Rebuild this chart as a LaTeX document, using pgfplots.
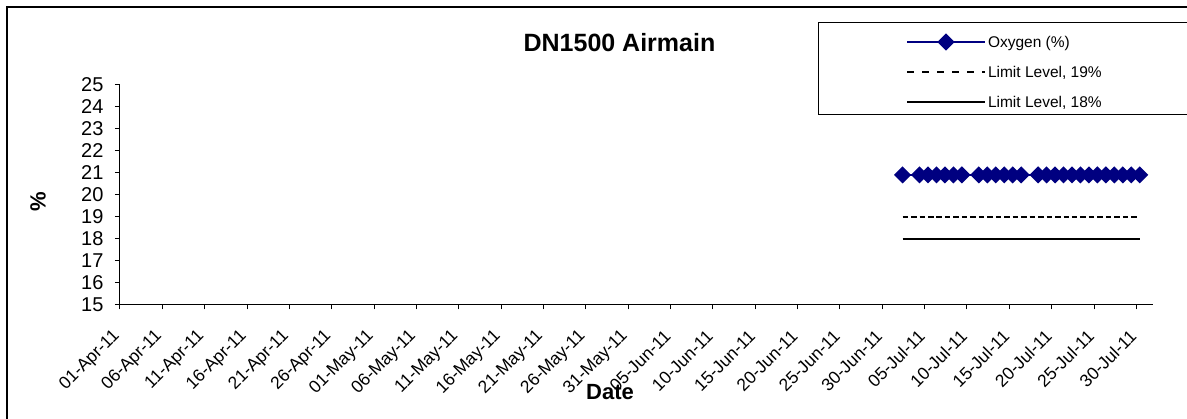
\documentclass[border=0pt]{standalone}
\usepackage{fontspec}
\setmainfont{Liberation Sans}
\usepackage{pgfplots}
\pgfplotsset{compat=1.18}
\definecolor{navy}{HTML}{000080}

\begin{document}
\begin{tikzpicture}[x=1pt,y=1pt]
\path[use as bounding box] (0,0) rectangle (1187,419);
\draw[line width=2pt] (7,-20) -- (7,412) -- (1210,412);
\draw[line width=1pt] (818,396) rectangle (1210,304);
\begin{axis}[
  at={(120pt,114.7pt)}, anchor=south west,
  scale only axis, width=1033.3pt, height=219.3pt,
  xmin=0, xmax=122, ymin=15, ymax=25,
  axis lines*=left,
  axis line style={black, line width=1pt},
  tick align=outside, major tick length=5pt,
  tick style={black, line width=1pt},
  clip=false,
  /pgf/number format/assume math mode=true,
  ytick={15,16,...,25},
  yticklabel style={font=\fontsize{20}{24}\selectfont, xshift=-8pt},
  xtick={0,5,...,120},
  xticklabels={01-Apr-11,06-Apr-11,11-Apr-11,16-Apr-11,21-Apr-11,26-Apr-11,01-May-11,06-May-11,11-May-11,16-May-11,21-May-11,26-May-11,31-May-11,05-Jun-11,10-Jun-11,15-Jun-11,20-Jun-11,25-Jun-11,30-Jun-11,05-Jul-11,10-Jul-11,15-Jul-11,20-Jul-11,25-Jul-11,30-Jul-11},
  xticklabel style={font=\fontsize{17.5}{21}\selectfont, inner sep=0pt, yshift=-24pt, xshift=-3pt, rotate=45, anchor=east},
  title={DN1500 Airmain},
  title style={font=\bfseries\fontsize{25}{30}\selectfont, at={(axis description cs:0.4834,1.1231)}, anchor=base},
  xlabel={Date},
  xlabel style={font=\bfseries\fontsize{22}{26}\selectfont, at={(axis description cs:0.4742,-0.4364)}, anchor=base},
  ylabel={\%},
  ylabel style={font=\bfseries\fontsize{22}{26}\selectfont, at={(axis description cs:-0.0794,0.4665)}, anchor=center},
  legend style={draw=none, fill=none, inner sep=0pt, outer sep=0pt,
    at={(axis description cs:0.7607,1.2303)}, anchor=north west,
    font=\fontsize{15.5}{18}\selectfont, row sep=15.5pt, column sep=2pt,
    nodes={inner sep=0pt, text height=11pt, text depth=3.5pt}},
  legend cell align=left,
  legend image code/.code={\draw[mark repeat=2,mark phase=2,#1] plot coordinates {(0pt,2pt) (39pt,2pt) (78pt,2pt)};},
]
\addplot[navy, line width=1.5pt, mark=square*, mark size=5.3pt, mark options={rotate=45, solid, fill=navy}] coordinates {
(92.4,20.9)
(94.4,20.9) (95.4,20.9) (96.4,20.9) (97.4,20.9) (98.4,20.9) (99.4,20.9)
(101.4,20.9) (102.4,20.9) (103.4,20.9) (104.4,20.9) (105.4,20.9) (106.4,20.9)
(108.4,20.9) (109.4,20.9) (110.4,20.9) (111.4,20.9) (112.4,20.9) (113.4,20.9) (114.4,20.9)
(115.4,20.9) (116.4,20.9) (117.4,20.9) (118.4,20.9) (119.4,20.9) (120.4,20.9)
};
\addlegendentry{Oxygen (\%)}
\addplot[black, line width=2pt, dash pattern=on 5.5pt off 2.97pt,
  legend image post style={dash pattern=on 6.7pt off 8.3pt}] coordinates {
(92.4,19)
(94.4,19) (95.4,19) (96.4,19) (97.4,19) (98.4,19) (99.4,19)
(101.4,19) (102.4,19) (103.4,19) (104.4,19) (105.4,19) (106.4,19)
(108.4,19) (109.4,19) (110.4,19) (111.4,19) (112.4,19) (113.4,19) (114.4,19)
(115.4,19) (116.4,19) (117.4,19) (118.4,19) (119.4,19) (120.4,19)
};
\addlegendentry{Limit Level, 19\%}
\addplot[black, line width=2pt] coordinates {
(92.4,18)
(94.4,18) (95.4,18) (96.4,18) (97.4,18) (98.4,18) (99.4,18)
(101.4,18) (102.4,18) (103.4,18) (104.4,18) (105.4,18) (106.4,18)
(108.4,18) (109.4,18) (110.4,18) (111.4,18) (112.4,18) (113.4,18) (114.4,18)
(115.4,18) (116.4,18) (117.4,18) (118.4,18) (119.4,18) (120.4,18)
};
\addlegendentry{Limit Level, 18\%}
\end{axis}
\end{tikzpicture}
\end{document}
